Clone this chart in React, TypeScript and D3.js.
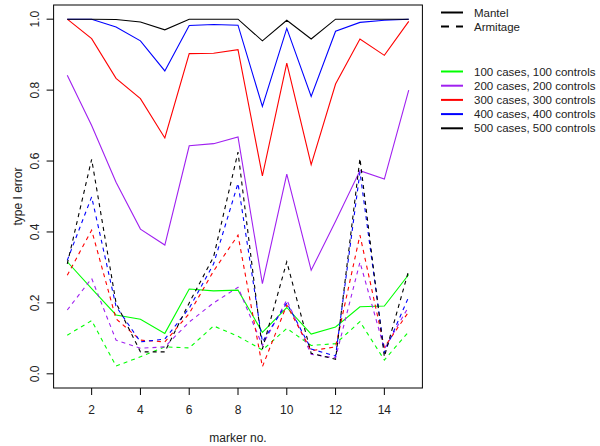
import React from "react";
import * as d3 from "d3";

const markers = [1, 2, 3, 4, 5, 6, 7, 8, 9, 10, 11, 12, 13, 14, 15];
const xTicks = [2, 4, 6, 8, 10, 12, 14];
const yTicks = [0, 0.2, 0.4, 0.6, 0.8, 1.0];

const groups = [
  "100 cases, 100 controls",
  "200 cases, 200 controls",
  "300 cases, 300 controls",
  "400 cases, 400 controls",
  "500 cases, 500 controls",
];
const colors = ["#00ff00", "#a020f0", "#ff0000", "#0000ff", "#000000"];

// Mantel test (solid)
const mantel100 = [0.316, 0.24, 0.166, 0.154, 0.114, 0.239, 0.234, 0.236, 0.117, 0.187, 0.112, 0.132, 0.189, 0.191, 0.28];
const mantel200 = [0.842, 0.7, 0.54, 0.408, 0.363, 0.643, 0.649, 0.668, 0.254, 0.563, 0.292, 0.43, 0.573, 0.549, 0.8];
const mantel300 = [1.0, 0.945, 0.833, 0.776, 0.665, 0.903, 0.904, 0.914, 0.558, 0.876, 0.59, 0.817, 0.944, 0.898, 0.994];
const mantel400 = [1.0, 1.0, 0.978, 0.939, 0.854, 0.982, 0.985, 0.983, 0.754, 0.974, 0.782, 0.966, 0.991, 0.997, 1.0];
const mantel500 = [1.0, 1.0, 0.999, 0.992, 0.97, 1.0, 1.0, 1.0, 0.939, 0.997, 0.944, 1.0, 1.0, 1.0, 1.0];

// Armitage trend test (dashed)
const armitage100 = [0.109, 0.15, 0.022, 0.048, 0.076, 0.073, 0.135, 0.106, 0.067, 0.128, 0.08, 0.085, 0.147, 0.039, 0.119];
const armitage200 = [0.18, 0.269, 0.095, 0.072, 0.076, 0.146, 0.2, 0.244, 0.08, 0.208, 0.055, 0.045, 0.315, 0.07, 0.19];
const armitage300 = [0.278, 0.405, 0.155, 0.095, 0.09, 0.17, 0.29, 0.391, 0.02, 0.194, 0.065, 0.076, 0.391, 0.075, 0.175];
const armitage400 = [0.32, 0.499, 0.19, 0.09, 0.098, 0.185, 0.31, 0.537, 0.09, 0.2, 0.07, 0.05, 0.569, 0.06, 0.217];
const armitage500 = [0.31, 0.605, 0.2, 0.062, 0.062, 0.2, 0.33, 0.625, 0.07, 0.316, 0.058, 0.041, 0.607, 0.048, 0.292];

const mantel = [mantel100, mantel200, mantel300, mantel400, mantel500];
const armitage = [armitage100, armitage200, armitage300, armitage400, armitage500];

const W = 600;
const H = 446;
const left = 53.6;
const right = 422.4;
const top = 5;
const bottom = 388;
const font = "'Liberation Sans', Arial, Helvetica, sans-serif";

export default function App() {
  const x = d3.scaleLinear().domain([0.44, 15.56]).range([left, right]);
  const y = d3.scaleLinear().domain([-0.04, 1.04]).range([bottom, top]);
  const line = d3
    .line<number>()
    .x((d, i) => x(markers[i]))
    .y((d) => y(d));

  return (
    <svg
      width={W}
      height={H}
      style={{ position: "absolute", left: 0, top: 0, background: "#fff" }}
      fontFamily={font}
      fontSize={12}
      fill="#222"
    >
      {groups.map((g, k) => (
        <g key={g}>
          <path d={line(armitage[k]) || ""} fill="none" stroke={colors[k]} strokeWidth={1.1} strokeDasharray="4,4" />
          <path d={line(mantel[k]) || ""} fill="none" stroke={colors[k]} strokeWidth={1.1} />
        </g>
      ))}

      <rect x={left} y={top} width={right - left} height={bottom - top} fill="none" stroke="#000" strokeWidth={1} />

      {xTicks.map((t) => (
        <g key={t}>
          <line x1={x(t)} x2={x(t)} y1={bottom} y2={bottom + 7} stroke="#000" />
          <text x={x(t)} y={414} textAnchor="middle">{t}</text>
        </g>
      ))}
      {yTicks.map((t) => (
        <g key={t}>
          <line x1={left} x2={left - 7} y1={y(t)} y2={y(t)} stroke="#000" />
          <text transform={`translate(39,${y(t)}) rotate(-90)`} textAnchor="middle">{t.toFixed(1)}</text>
        </g>
      ))}

      <text x={(left + right) / 2} y={442} textAnchor="middle">marker no.</text>
      <text transform={`translate(22,${(top + bottom) / 2}) rotate(-90)`} textAnchor="middle">type I error</text>

      <g fontSize={11.5}>
        <line x1={441} x2={463} y1={12.5} y2={12.5} stroke="#000" strokeWidth={2} />
        <text x={474} y={16.5}>Mantel</text>
        <line x1={441} x2={463} y1={26.5} y2={26.5} stroke="#000" strokeWidth={2} strokeDasharray="8,7" />
        <text x={474} y={30.5}>Armitage</text>
        {groups.map((g, k) => (
          <g key={g}>
            <line x1={441} x2={463} y1={71.5 + k * 14.2} y2={71.5 + k * 14.2} stroke={colors[k]} strokeWidth={2} />
            <text x={474} y={75.5 + k * 14.2}>{g}</text>
          </g>
        ))}
      </g>
    </svg>
  );
}
